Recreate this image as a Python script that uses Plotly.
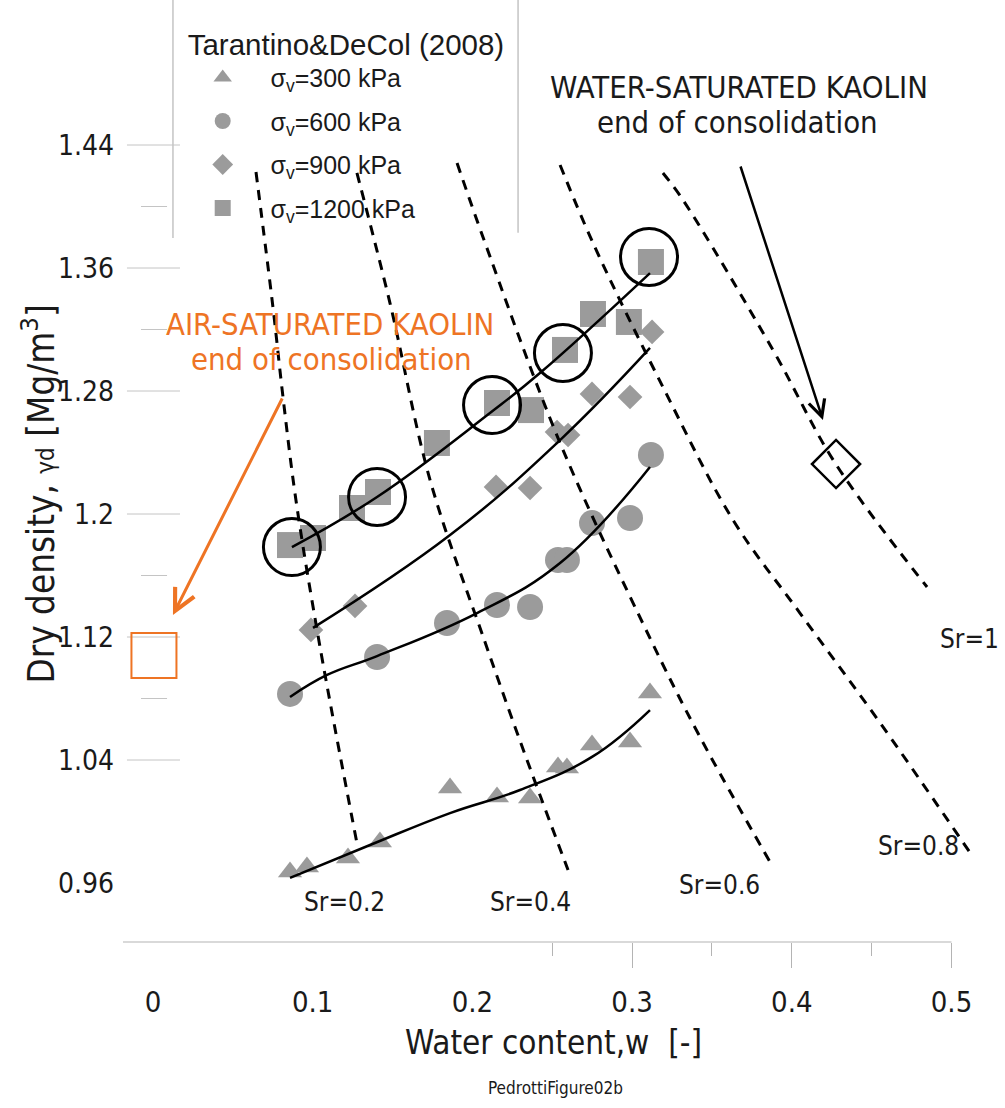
import plotly.graph_objects as go

# ---------------- data ----------------
w300 = [0.0858, 0.0964, 0.1221, 0.1421, 0.1860, 0.2154, 0.2361, 0.2536, 0.2592, 0.2749, 0.2987, 0.3112]
y300 = [0.9672, 0.9704, 0.9763, 0.9867, 1.0218, 1.0159, 1.0153, 1.0354, 1.0348, 1.0498, 1.0517, 1.0836]
w600 = [0.0858, 0.1403, 0.1841, 0.2154, 0.2361, 0.2536, 0.2592, 0.2749, 0.2987, 0.3118]
y600 = [1.0830, 1.1070, 1.1291, 1.1408, 1.1395, 1.1701, 1.1701, 1.1941, 1.1974, 1.2384]
w900 = [0.0989, 0.1265, 0.2148, 0.2361, 0.2530, 0.2599, 0.2749, 0.2987, 0.3125]
y900 = [1.1246, 1.1402, 1.2176, 1.2169, 1.2533, 1.2514, 1.2781, 1.2761, 1.3184]
w1200 = [0.0858, 0.1002, 0.1246, 0.1409, 0.1778, 0.2154, 0.2367, 0.2580, 0.2755, 0.2980, 0.3118]
y1200 = [1.1798, 1.1844, 1.2039, 1.2143, 1.2462, 1.2722, 1.2676, 1.3067, 1.3301, 1.3249, 1.3639]

# fitted trend curves
fw300 = [0.0858, 0.1359, 0.1860, 0.2298, 0.2749, 0.3112]
fy300 = [0.9633, 0.9847, 1.0055, 1.0205, 1.0420, 1.0725]
fw600 = [0.0858, 0.1090, 0.1403, 0.2029, 0.2549, 0.3112]
fy600 = [1.0810, 1.0953, 1.1076, 1.1356, 1.1681, 1.2306]
fw900 = [0.1002, 0.1860, 0.2549, 0.3112]
fy900 = [1.1259, 1.1863, 1.2481, 1.3080]
fw1200 = [0.0870, 0.1403, 0.2110, 0.2423, 0.3112]
fy1200 = [1.1785, 1.2111, 1.2657, 1.2917, 1.3567]

# highlighted points (big open circles)
wcirc = [0.0870, 0.1403, 0.2123, 0.2567, 0.3106]
ycirc = [1.1785, 1.2111, 1.2709, 1.3047, 1.3672]

# degree-of-saturation lines
sr_w = {
    "0.2": [0.0645, 0.0751, 0.0814, 0.0895, 0.1046, 0.1277],
    "0.4": [0.1277, 0.1484, 0.1735, 0.2079, 0.2342, 0.2599],
    "0.6": [0.1904, 0.2066, 0.2549, 0.3112, 0.3425, 0.3882],
    "0.8": [0.2549, 0.2755, 0.3193, 0.3632, 0.4051, 0.4571, 0.5135],
    "1":   [0.3193, 0.3319, 0.3882, 0.4271, 0.4847],
}
sr_y = {
    "0.2": [1.4224, 1.3346, 1.2761, 1.2091, 1.1135, 0.9860],
    "0.4": [1.4218, 1.3372, 1.2221, 1.1167, 1.0400, 0.9685],
    "0.6": [1.4283, 1.3802, 1.2462, 1.1193, 1.0550, 0.9704],
    "0.8": [1.4270, 1.3763, 1.2826, 1.1961, 1.1356, 1.0615, 0.9769],
    "1":   [1.4218, 1.4042, 1.3067, 1.2332, 1.1525],
}
sr_label_pos = {"0.2": (0.1202, 0.9476), "0.4": (0.2361, 0.9476), "0.6": (0.3550, 0.9587),
                "0.8": (0.4796, 0.9841), "1": (0.5110, 1.1187)}

# end-of-consolidation points
w_air, y_air = [0.0006], [1.1080]
w_wat, y_wat = [0.4277], [1.2325]

ytick_vals = [0.96, 1.04, 1.12, 1.2, 1.28, 1.36, 1.44]
ytick_text = ["0.96", "1.04", "1.12", "1.2", "1.28", "1.36", "1.44"]
xtick_vals = [0, 0.1, 0.2, 0.3, 0.4, 0.5]
xtick_text = ["0", "0.1", "0.2", "0.3", "0.4", "0.5"]
ystub_major = [1.04, 1.12, 1.2, 1.28, 1.36, 1.44]
ystub_minor = [1.08, 1.16, 1.32, 1.40]

# ---------------- styling ----------------
XR = [-0.01753, 0.51785]
YR = [0.92163, 1.53431]
GREY = '#9b9b9b'
ORANGE = '#ee7424'
LGREY = '#c4c4c4'
COND = 'DejaVu Sans Condensed, DejaVu Sans, sans-serif'
ARIAL = 'Liberation Sans, Arial, sans-serif'
TXT = '#1a1a1a'
PAD = '\u00a0' * 4


def px(w):
    return (w - XR[0]) / (XR[1] - XR[0])


fig = go.Figure()

series = [
    (w300, y300, 'triangle-up', 21, 'σ<sub>v</sub>=300 kPa'),
    (w600, y600, 'circle', 26, 'σ<sub>v</sub>=600 kPa'),
    (w900, y900, 'diamond', 19, 'σ<sub>v</sub>=900 kPa'),
    (w1200, y1200, 'square', 26, 'σ<sub>v</sub>=1200 kPa'),
]
for w, y, sym, s, name in series:
    fig.add_trace(go.Scatter(x=w, y=y, mode='markers', name=PAD + name, legendgroup=name,
                             marker=dict(symbol=sym, size=s, color=GREY, line=dict(width=0))))

for k in sr_w:
    fig.add_trace(go.Scatter(x=sr_w[k], y=sr_y[k], mode='lines', showlegend=False,
                             line=dict(color='black', width=3, dash='10px,8px', shape='spline')))

for fw, fy in [(fw300, fy300), (fw600, fy600), (fw900, fy900), (fw1200, fy1200)]:
    fig.add_trace(go.Scatter(x=fw, y=fy, mode='lines', showlegend=False,
                             line=dict(color='black', width=2.5, shape='spline', smoothing=1.2)))

fig.add_trace(go.Scatter(x=wcirc, y=ycirc, mode='markers', showlegend=False,
                         marker=dict(symbol='circle-open', size=57, color='black', line=dict(width=3))))
fig.add_trace(go.Scatter(x=w_wat, y=y_wat, mode='markers', showlegend=False,
                         marker=dict(symbol='diamond-open', size=37, color='black', line=dict(width=2.5))))
fig.add_trace(go.Scatter(x=w_air, y=y_air, mode='markers', showlegend=False, xaxis='x2',
                         marker=dict(symbol='square-open', size=45, color=ORANGE, line=dict(width=2))))

shapes = []
for v in ystub_major:
    shapes.append(dict(type='line', xref='x', yref='y', x0=-0.0163, x1=0.0169, y0=v, y1=v,
                       line=dict(color=LGREY, width=1), layer='below'))
for v in ystub_minor:
    shapes.append(dict(type='line', xref='x', yref='y', x0=-0.0075, x1=0.0088, y0=v, y1=v,
                       line=dict(color=LGREY, width=1), layer='below'))
# legend frame verticals
shapes.append(dict(type='line', xref='x', yref='y', x0=0.0125, x1=0.0125, y0=1.3795, y1=YR[1],
                   line=dict(color=LGREY, width=1.5), layer='below'))
shapes.append(dict(type='line', xref='x', yref='y', x0=0.2286, x1=0.2286, y0=1.3830, y1=YR[1],
                   line=dict(color=LGREY, width=1.5), layer='below'))
# x axis baseline
shapes.append(dict(type='line', xref='paper', yref='paper', x0=px(-0.0188), x1=px(0.5), y0=0, y1=0,
                   line=dict(color='#b4b4b4', width=1.2)))

ann = []
ann.append(dict(x=0.3669, y=1.4777, xref='x', yref='y', text='WATER-SATURATED KAOLIN', showarrow=False,
                font=dict(family=COND, size=30.8, color=TXT)))
ann.append(dict(x=0.3663, y=1.4550, xref='x', yref='y', text='end of consolidation', showarrow=False,
                font=dict(family=COND, size=30.8, color=TXT)))
ann.append(dict(x=0.1108, y=1.3236, xref='x', yref='y', text='AIR-SATURATED KAOLIN', showarrow=False,
                font=dict(family=COND, size=30.8, color=ORANGE)))
ann.append(dict(x=0.1115, y=1.3008, xref='x', yref='y', text='end of consolidation', showarrow=False,
                font=dict(family=COND, size=30.8, color=ORANGE)))
ann.append(dict(x=0.4195, y=1.2611, ax=0.3676, ay=1.4270, xref='x', yref='y', axref='x', ayref='y',
                text='', showarrow=True, arrowhead=5, arrowsize=1.3, arrowwidth=2.5, arrowcolor='black'))
ann.append(dict(x=0.0125, y=1.1343, ax=0.0814, ay=1.2761, xref='x', yref='y', axref='x', ayref='y',
                text='', showarrow=True, arrowhead=5, arrowsize=1.4, arrowwidth=3, arrowcolor=ORANGE))
for k, (lx, ly) in sr_label_pos.items():
    ann.append(dict(x=lx, y=ly, xref='x', yref='y', text='Sr=' + k, showarrow=False,
                    font=dict(family=COND, size=26, color=TXT)))
ann.append(dict(x=-0.1018, y=0.4760, xref='paper', yref='paper', textangle=-90, showarrow=False,
                xanchor='center', yanchor='middle',
                text="Dry density, <span style='font-size:24px'>γd</span> [Mg/m<sup>3</sup>]",
                font=dict(family=COND, size=36.5, color=TXT)))
ann.append(dict(x=0.5006, y=-0.1062, xref='paper', yref='paper', showarrow=False,
                xanchor='center', yanchor='middle',
                text='Water content,w  [-]', font=dict(family=COND, size=33, color=TXT)))
ann.append(dict(x=0.503, y=-0.155, xref='paper', yref='paper', showarrow=False,
                xanchor='center', yanchor='middle',
                text='PedrottiFigure02b', font=dict(family=COND, size=17, color=TXT)))

fig.update_layout(
    width=1005, height=1108,
    margin=dict(l=125, r=25, t=0, b=166),
    paper_bgcolor='white', plot_bgcolor='white',
    shapes=shapes, annotations=ann,
    xaxis=dict(range=XR, tickvals=xtick_vals, ticktext=xtick_text, ticks='', showgrid=False,
               zeroline=False, showline=False, ticklabelstandoff=40,
               tickfont=dict(family=COND, size=29, color=TXT)),
    xaxis2=dict(range=XR, overlaying='x', anchor='y', side='bottom', showticklabels=False,
                tickvals=[0.3, 0.4, 0.5], ticks='outside', ticklen=25, tickcolor='#b4b4b4', tickwidth=1,
                minor=dict(tickvals=[0.25, 0.35, 0.45], ticks='outside', ticklen=13,
                           tickcolor='#b4b4b4', tickwidth=1),
                showgrid=False, zeroline=False, showline=False),
    yaxis=dict(range=YR, tickvals=ytick_vals, ticktext=ytick_text, ticks='', showgrid=False,
               zeroline=False, showline=False, ticklabelstandoff=10,
               tickfont=dict(family=COND, size=28, color=TXT)),
    legend=dict(x=0.071, y=0.9826, xanchor='left', yanchor='top', bgcolor='rgba(0,0,0,0)',
                title=dict(text='Tarantino&DeCol (2008)', font=dict(family=ARIAL, size=29.5, color=TXT)),
                font=dict(family=ARIAL, size=25, color=TXT), itemsizing='trace',
                traceorder='grouped', tracegroupgap=8, indentation=17),
    showlegend=True,
)

fig.write_html('out.html')
